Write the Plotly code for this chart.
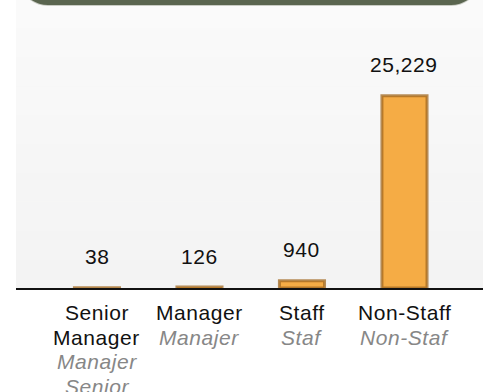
import plotly.graph_objects as go

# Headcount by employee category
categories = ["Senior Manager", "Manager", "Staff", "Non-Staff"]
labels_en = [["Senior", "Manager"], ["Manager"], ["Staff"], ["Non-Staff"]]
labels_ms = [["Manajer", "Senior"], ["Manajer"], ["Staf"], ["Non-Staf"]]
headcount = [38, 126, 940, 25229]

W, H = 485, 392
ML, MR, MT, MB = 16, 2, 0, 104
PW, PH = W - ML - MR, H - MT - MB

FONT = "Liberation Sans, Arial, Helvetica, sans-serif"
FS = 21
LINE = 24.6
BAR = "#F5AC45"
BAR_EDGE = "rgba(160,104,34,0.75)"
BANNER = "#5A654F"


def spaced(t):
    return f"<span style='letter-spacing:0.55px'>{t}</span>"


def px(x):
    return (x - ML) / PW


def py(y):
    return (H - MB - y) / PH


def rounded_bottom_path(x0, x1, ytop, ybot, r):
    k = 0.5523 * r
    pts = [
        f"M {px(x0)},{py(ytop)}",
        f"L {px(x0)},{py(ybot - r)}",
        f"C {px(x0)},{py(ybot - r + k)} {px(x0 + r - k)},{py(ybot)} {px(x0 + r)},{py(ybot)}",
        f"L {px(x1 - r)},{py(ybot)}",
        f"C {px(x1 - r + k)},{py(ybot)} {px(x1)},{py(ybot - r + k)} {px(x1)},{py(ybot - r)}",
        f"L {px(x1)},{py(ytop)}",
        "Z",
    ]
    return " ".join(pts)


fig = go.Figure(
    go.Bar(
        x=categories,
        y=headcount,
        width=0.44,
        marker=dict(color=BAR, line=dict(color=BAR_EDGE, width=3)),
        hoverinfo="skip",
    )
)

# Soft vertical shading of the plotting area, lighter towards the top
n_bands = 10
for i in range(n_bands):
    g = 243 + round(7 * i / (n_bands - 1))
    fig.add_shape(type="rect", xref="paper", yref="paper",
                  x0=0, x1=1, y0=i / n_bands, y1=(i + 1) / n_bands,
                  fillcolor=f"rgb({g},{g},{g})", line=dict(width=0), layer="below")

# Value labels above the bars
for cat, val in zip(categories, headcount):
    fig.add_annotation(
        x=cat, y=val, text=spaced(f"{val:,}"), showarrow=False,
        yanchor="bottom", yshift=17.5,
        font=dict(family=FONT, size=FS, color="#111111"),
    )

# Category labels: English in black, Malay in grey italics, tight line spacing
for cat, en, ms in zip(categories, labels_en, labels_ms):
    lines = [(t, "#111111", False) for t in en] + [(t, "#878787", True) for t in ms]
    for i, (t, col, ital) in enumerate(lines):
        fig.add_annotation(
            x=cat, xref="x", y=0, yref="paper", showarrow=False,
            text=f"<i>{spaced(t)}</i>" if ital else spaced(t),
            yanchor="middle", yshift=-(24.5 + LINE * i),
            font=dict(family=FONT, size=FS, color=col),
        )

# Title banner with rounded lower corners (its top runs off the page)
fig.add_shape(type="path", xref="paper", yref="paper",
              path=rounded_bottom_path(18, 481, -40, 6, 30),
              fillcolor="#C9CCC4", line=dict(width=0), layer="above")
fig.add_shape(type="path", xref="paper", yref="paper",
              path=rounded_bottom_path(18, 481, -40, 5, 30),
              fillcolor=BANNER, line=dict(width=0), layer="above")

fig.update_layout(
    width=W, height=H,
    margin=dict(l=ML, r=MR, t=MT, b=MB),
    paper_bgcolor="#FFFFFF",
    plot_bgcolor="#F6F6F5",
    showlegend=False,
    font=dict(family=FONT, size=FS, color="#111111"),
    xaxis=dict(
        type="category",
        tickvals=categories, showticklabels=False,
        range=[-0.79, 3.766],
        showline=True, linecolor="#111111", linewidth=2,
        showgrid=False, zeroline=False,
    ),
    yaxis=dict(
        range=[0, 37800], visible=False, showgrid=False, zeroline=False,
    ),
)

fig.write_html("out.html")
